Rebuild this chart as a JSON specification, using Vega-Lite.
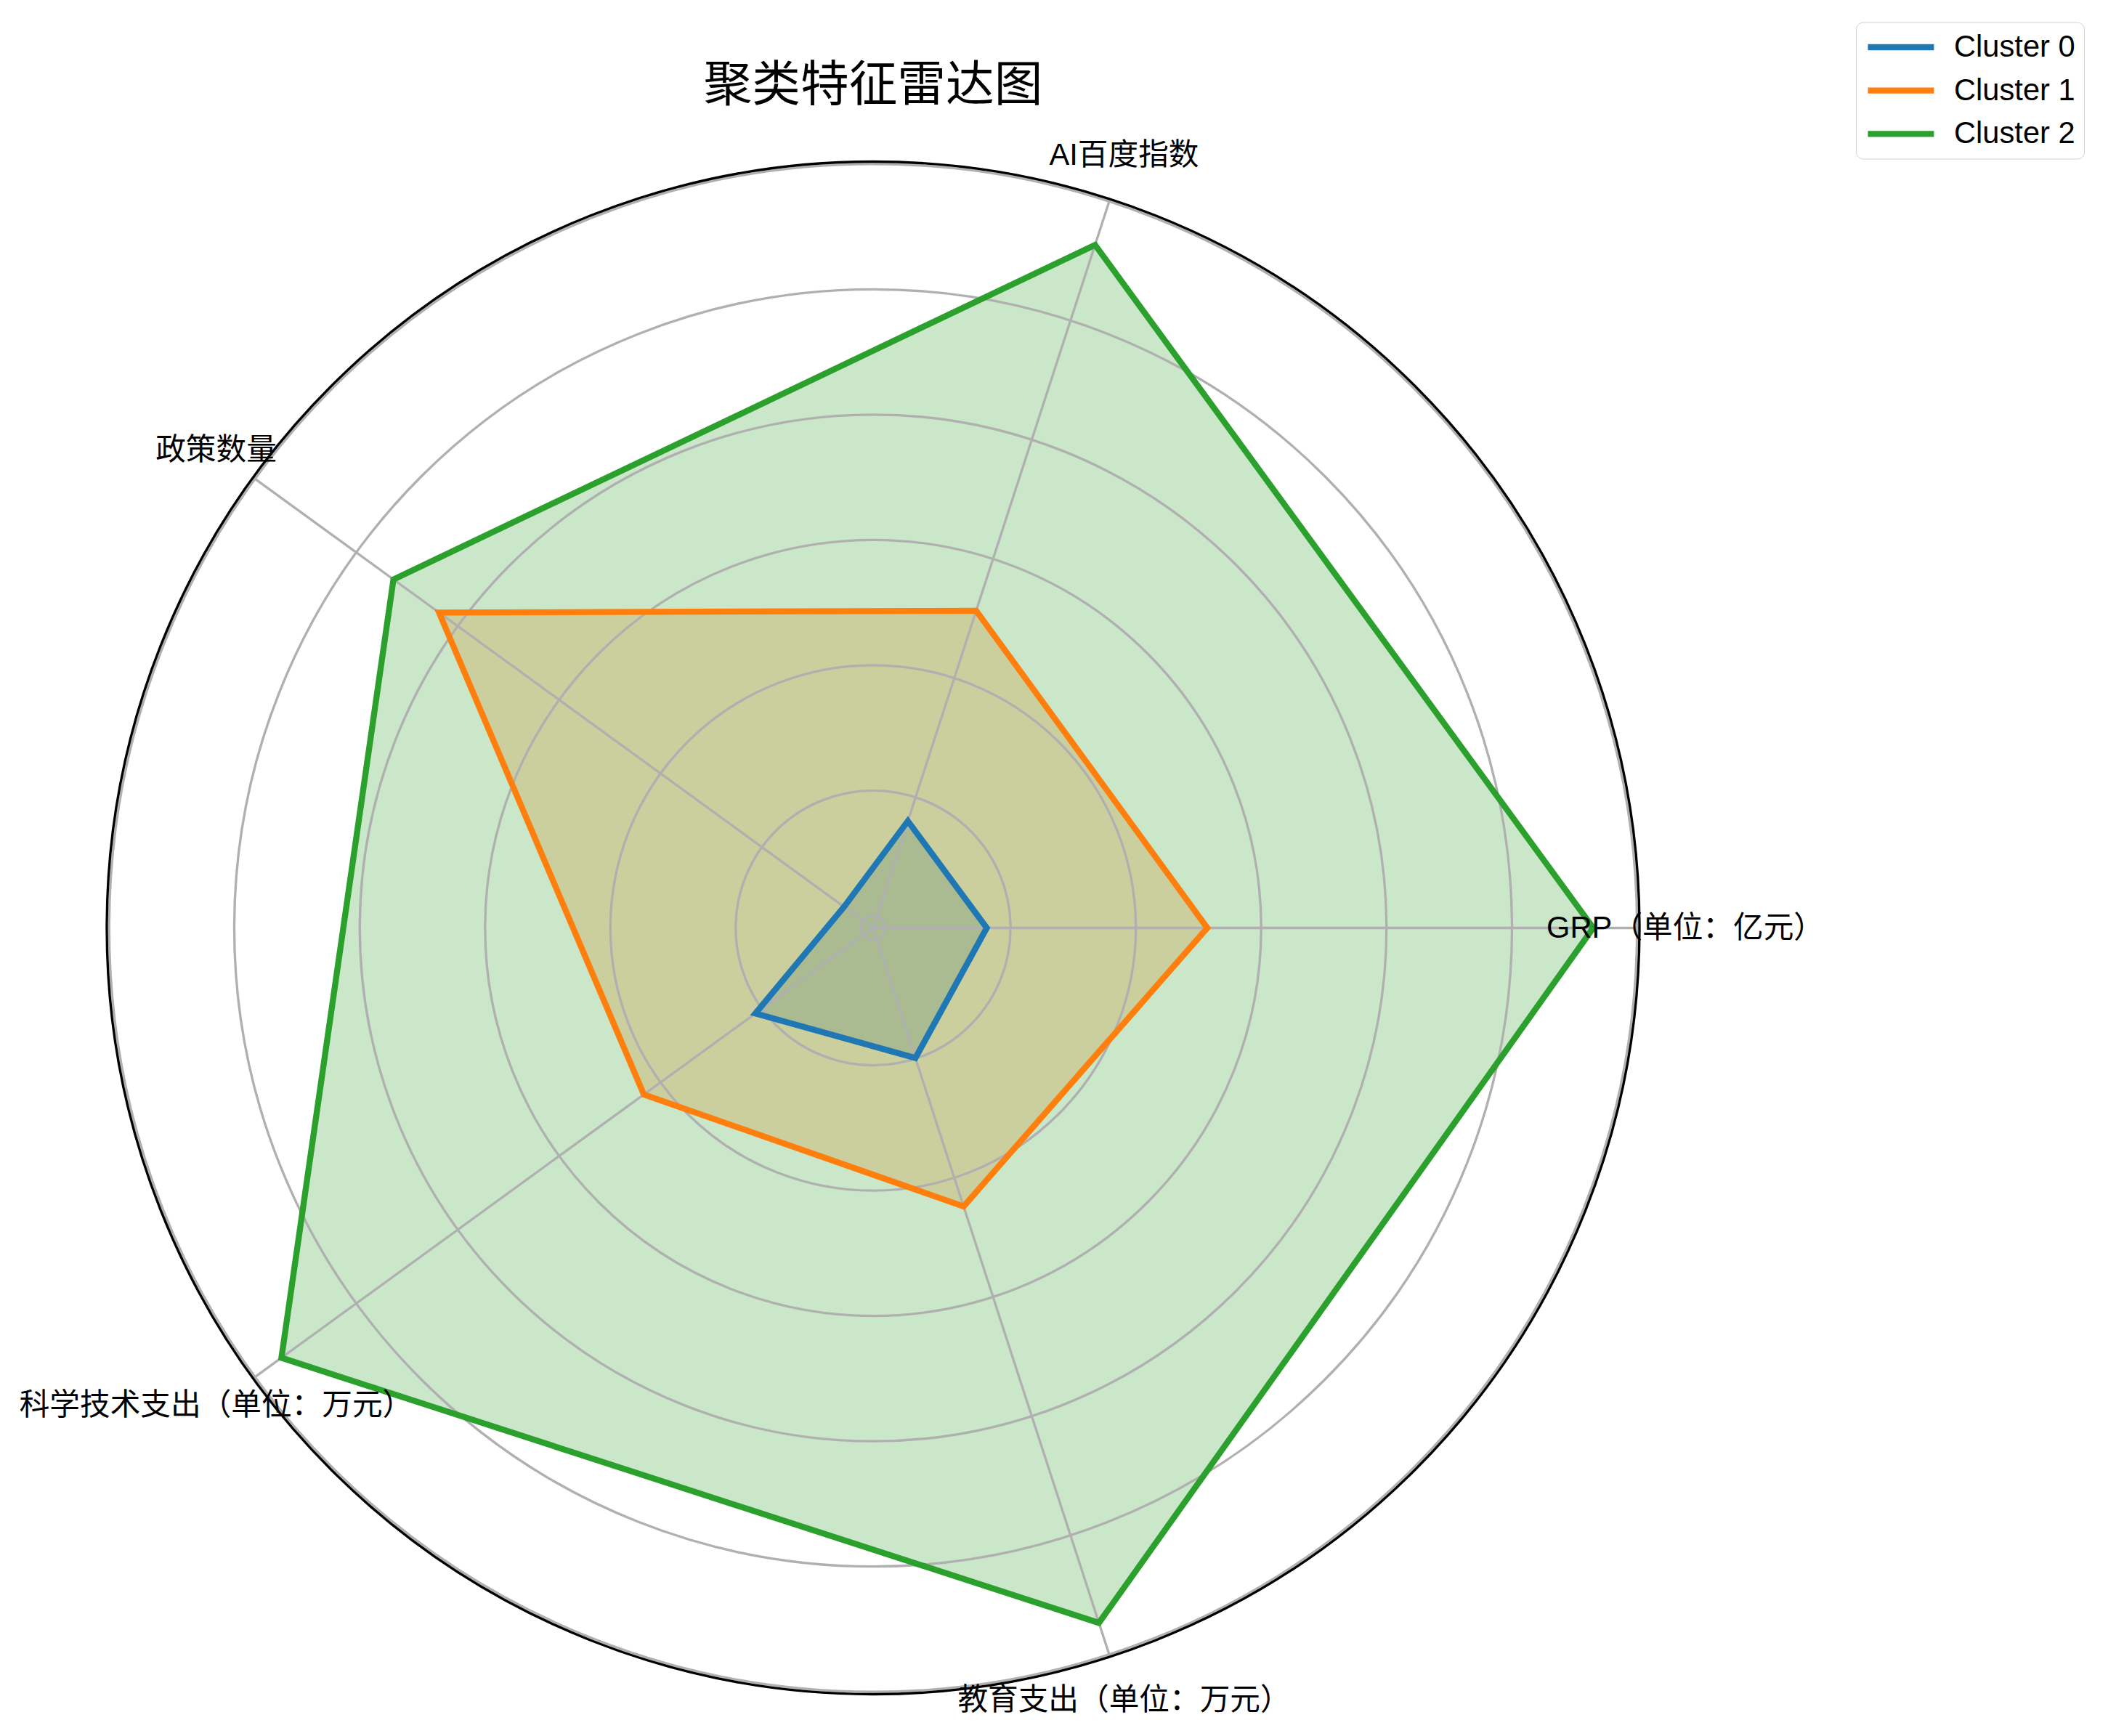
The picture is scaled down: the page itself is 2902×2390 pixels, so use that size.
{
  "$schema": "https://vega.github.io/schema/vega-lite/v6.json",
  "width": 2110,
  "height": 2110,
  "autosize": {"type": "none"},
  "padding": {"left": 147, "top": 222.5, "right": 645, "bottom": 57.5},
  "background": "white",
  "title": {
    "text": "聚类特征雷达图",
    "font": "Noto Sans CJK SC",
    "fontSize": 66.7,
    "fontWeight": "normal",
    "color": "black",
    "anchor": "middle",
    "offset": 0,
    "dy": 123
  },
  "config": {"view": {"stroke": null}},
  "datasets": {
    "metrics": [
      {"cluster": "Cluster 0", "axis": "GRP（单位：亿元）", "deg": 0, "v": 0.162},
      {"cluster": "Cluster 0", "axis": "AI百度指数", "deg": 72, "v": 0.160},
      {"cluster": "Cluster 0", "axis": "政策数量", "deg": 144, "v": 0.038},
      {"cluster": "Cluster 0", "axis": "科学技术支出（单位：万元）", "deg": 216, "v": 0.213},
      {"cluster": "Cluster 0", "axis": "教育支出（单位：万元）", "deg": 288, "v": 0.199},
      {"cluster": "Cluster 1", "axis": "GRP（单位：亿元）", "deg": 0, "v": 0.514},
      {"cluster": "Cluster 1", "axis": "AI百度指数", "deg": 72, "v": 0.513},
      {"cluster": "Cluster 1", "axis": "政策数量", "deg": 144, "v": 0.837},
      {"cluster": "Cluster 1", "axis": "科学技术支出（单位：万元）", "deg": 216, "v": 0.433},
      {"cluster": "Cluster 1", "axis": "教育支出（单位：万元）", "deg": 288, "v": 0.448},
      {"cluster": "Cluster 2", "axis": "GRP（单位：亿元）", "deg": 0, "v": 1.130},
      {"cluster": "Cluster 2", "axis": "AI百度指数", "deg": 72, "v": 1.127},
      {"cluster": "Cluster 2", "axis": "政策数量", "deg": 144, "v": 0.927},
      {"cluster": "Cluster 2", "axis": "科学技术支出（单位：万元）", "deg": 216, "v": 1.148},
      {"cluster": "Cluster 2", "axis": "教育支出（单位：万元）", "deg": 288, "v": 1.147}
    ],
    "axes": [
      {"axis": "GRP（单位：亿元）", "deg": 0},
      {"axis": "AI百度指数", "deg": 72},
      {"axis": "政策数量", "deg": 144},
      {"axis": "科学技术支出（单位：万元）", "deg": 216},
      {"axis": "教育支出（单位：万元）", "deg": 288}
    ],
    "grid": [
      {"v": 0}, {"v": 0.2}, {"v": 0.4}, {"v": 0.6}, {"v": 0.8}, {"v": 1.0}, {"v": 1.2}
    ],
    "spine": [
      {"v": 1.20383}
    ]
  },
  "layer": [
    {
      "data": {"name": "metrics"},
      "transform": [
        {"calculate": "(datum.v + 0.01936) * cos(datum.deg * PI / 180)", "as": "px"},
        {"calculate": "(datum.v + 0.01936) * sin(datum.deg * PI / 180)", "as": "py"}
      ],
      "mark": {"type": "line", "interpolate": "linear-closed", "fillOpacity": 0.25, "strokeOpacity": 0, "strokeWidth": 0},
      "encoding": {
        "x": {"field": "px", "type": "quantitative", "scale": {"domain": [-1.22319, 1.22319], "nice": false, "zero": false}, "axis": null},
        "y": {"field": "py", "type": "quantitative", "scale": {"domain": [-1.22319, 1.22319], "nice": false, "zero": false}, "axis": null},
        "fill": {"field": "cluster", "type": "nominal", "scale": {"domain": ["Cluster 2", "Cluster 1", "Cluster 0"], "range": ["#2ca02c", "#ff7f0e", "#1f77b4"]}, "legend": null},
        "detail": {"field": "cluster"},
        "order": {"field": "deg", "type": "quantitative"}
      }
    },
    {
      "data": {"name": "grid"},
      "mark": {"type": "arc", "theta": 0, "theta2": 6.2832, "filled": false, "stroke": "#b0b0b0", "strokeWidth": 3.33},
      "encoding": {
        "radius": {"field": "v", "type": "quantitative", "stack": null, "scale": {"type": "linear", "domain": [-0.01936, 1.20383], "range": [0, 1055], "zero": false, "nice": false}},
        "radius2": {"value": 0}
      }
    },
    {
      "data": {"name": "axes"},
      "transform": [
        {"calculate": "1.22319 * cos(datum.deg * PI / 180)", "as": "ex"},
        {"calculate": "1.22319 * sin(datum.deg * PI / 180)", "as": "ey"},
        {"calculate": "0", "as": "ox"}
      ],
      "mark": {"type": "rule", "stroke": "#b0b0b0", "strokeWidth": 3.33},
      "encoding": {
        "x": {"field": "ox", "type": "quantitative"},
        "y": {"field": "ox", "type": "quantitative"},
        "x2": {"field": "ex"},
        "y2": {"field": "ey"}
      }
    },
    {
      "data": {"name": "spine"},
      "mark": {"type": "arc", "theta": 0, "theta2": 6.2832, "filled": false, "stroke": "#000000", "strokeWidth": 3.33},
      "encoding": {
        "radius": {"field": "v", "type": "quantitative", "stack": null},
        "radius2": {"value": 0}
      }
    },
    {
      "data": {"name": "metrics"},
      "transform": [
        {"calculate": "(datum.v + 0.01936) * cos(datum.deg * PI / 180)", "as": "px"},
        {"calculate": "(datum.v + 0.01936) * sin(datum.deg * PI / 180)", "as": "py"}
      ],
      "mark": {"type": "line", "interpolate": "linear-closed", "strokeWidth": 8.33},
      "encoding": {
        "x": {"field": "px", "type": "quantitative"},
        "y": {"field": "py", "type": "quantitative"},
        "color": {
          "field": "cluster", "type": "nominal",
          "scale": {"domain": ["Cluster 0", "Cluster 1", "Cluster 2"], "range": ["#1f77b4", "#ff7f0e", "#2ca02c"]},
          "legend": {
            "orient": "none", "legendX": 2408, "legendY": -192,
            "title": null,
            "labelFont": "Liberation Sans", "labelFontSize": 41.67, "labelColor": "black", "labelLimit": 600,
            "symbolType": "M-1,0H4.05", "symbolSize": 1296, "symbolStrokeWidth": 8.33,
            "labelOffset": 78, "padding": 12, "rowPadding": 14.7,
            "strokeColor": "#d0d0d0", "fillColor": "white", "cornerRadius": 10
          }
        },
        "order": {"field": "deg", "type": "quantitative"}
      }
    },
    {
      "data": {"name": "axes"},
      "transform": [
        {"calculate": "1.2963 * cos(datum.deg * PI / 180)", "as": "lx"},
        {"calculate": "1.2963 * sin(datum.deg * PI / 180)", "as": "ly"}
      ],
      "mark": {"type": "text", "font": "'Liberation Sans', 'Noto Sans CJK SC'", "fontSize": 41.67, "align": "center", "baseline": "middle", "color": "black"},
      "encoding": {
        "x": {"field": "lx", "type": "quantitative"},
        "y": {"field": "ly", "type": "quantitative"},
        "text": {"field": "axis"}
      }
    }
  ]
}
